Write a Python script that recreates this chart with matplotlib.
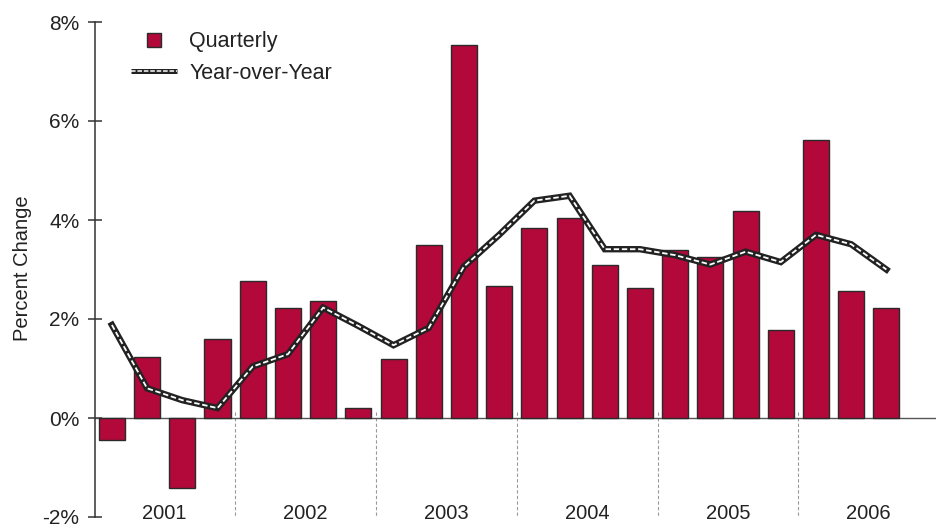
import matplotlib
matplotlib.use("Agg")
import matplotlib.pyplot as plt
from matplotlib.lines import Line2D
from matplotlib.legend_handler import HandlerBase
import numpy as np

plt.rcParams['font.family'] = ['Liberation Sans', 'DejaVu Sans']

quarterly = [-0.45, 1.24, -1.42, 1.59,
             2.77, 2.23, 2.37, 0.21,
             1.19, 3.49, 7.54, 2.67,
             3.84, 4.04, 3.10, 2.62,
             3.39, 3.25, 4.19, 1.78,
             5.62, 2.57, 2.23]
yoy = [1.88, 0.60, 0.36, 0.20,
       1.04, 1.29, 2.23, 1.86,
       1.47, 1.82, 3.06, 3.70,
       4.39, 4.49, 3.41, 3.41,
       3.29, 3.10, 3.36, 3.15,
       3.70, 3.51, 3.00]
years = ['2001', '2002', '2003', '2004', '2005', '2006']
yticks = [-2, 0, 2, 4, 6, 8]
ytick_labels = ['-2%', '0%', '2%', '4%', '6%', '8%']

bar_color = '#B2083A'
edge = '#2a2a2a'
line_dark = '#222222'


class DoubleLineHandler(HandlerBase):
    def create_artists(self, legend, orig_handle, xdescent, ydescent,
                       width, height, fontsize, trans):
        y = (height - ydescent) / 2.0
        xs = [-xdescent, width - xdescent]
        a = Line2D(xs, [y, y], color=line_dark, lw=3.6, transform=trans,
                   solid_capstyle='butt')
        b = Line2D(xs, [y, y], color='white', lw=1.1, ls=(0, (3, 1.2)),
                   transform=trans, dash_capstyle='butt')
        return [a, b]


W, H = 937, 526
fig = plt.figure(figsize=(W / 100, H / 100), dpi=100)
ax = fig.add_axes([95 / W, 1 - 517 / H, 1 - 95 / W, (517 - 22) / H])

x = np.arange(len(quarterly))
ax.bar(x, quarterly, width=0.74, color=bar_color, edgecolor=edge, linewidth=1.0, zorder=3)
ax.axhline(0, color='#555555', lw=1.0, zorder=2)

l1, = ax.plot(x, yoy, color=line_dark, lw=4.6, solid_joinstyle='miter', zorder=4)
l2, = ax.plot(x, yoy, color='white', lw=1.3, ls=(0, (3, 1.5)), zorder=5)

# year dividers and labels
for k in range(1, len(years)):
    ax.plot([4 * k - 0.5, 4 * k - 0.5], [0.12, -2], color='#999999', lw=0.8,
            ls=(0, (3, 2)), zorder=1)
for k, yr in enumerate(years):
    ax.text(4 * k + 1.5, -1.92, yr, ha='center', va='center', fontsize=14.5, color='#222222')

ax.set_xlim(-0.48, (W - 112) / 35.2)
ax.set_ylim(-2, 8)
ax.set_yticks(yticks)
ax.set_yticklabels(ytick_labels)
ax.set_xticks([])
for s in ['top', 'right', 'bottom']:
    ax.spines[s].set_visible(False)
ax.spines['left'].set_color('#333333')
ax.spines['left'].set_linewidth(1.1)
ax.tick_params(axis='y', direction='inout', length=9.5, width=1.1, color='#333333',
               labelsize=15, labelcolor='#222222', pad=6.5)
ax.set_ylabel('Percent Change', fontsize=14.5, color='#222222')
ax.yaxis.set_label_coords(-0.075, 0.503)

sq = Line2D([], [], marker='s', ls='none', markersize=10, markerfacecolor=bar_color,
            markeredgecolor=edge, markeredgewidth=1.0)
leg = ax.legend([sq, l1], ['Quarterly', 'Year-over-Year'],
                handler_map={l1: DoubleLineHandler()},
                loc='upper left', bbox_to_anchor=(0.043, 0.981), frameon=False,
                fontsize=15.5, handlelength=2.15, handletextpad=0.55, labelspacing=0.47,
                borderpad=0, borderaxespad=0)
for t in leg.get_texts():
    t.set_color('#222222')

fig.savefig('out.png', dpi=100)
